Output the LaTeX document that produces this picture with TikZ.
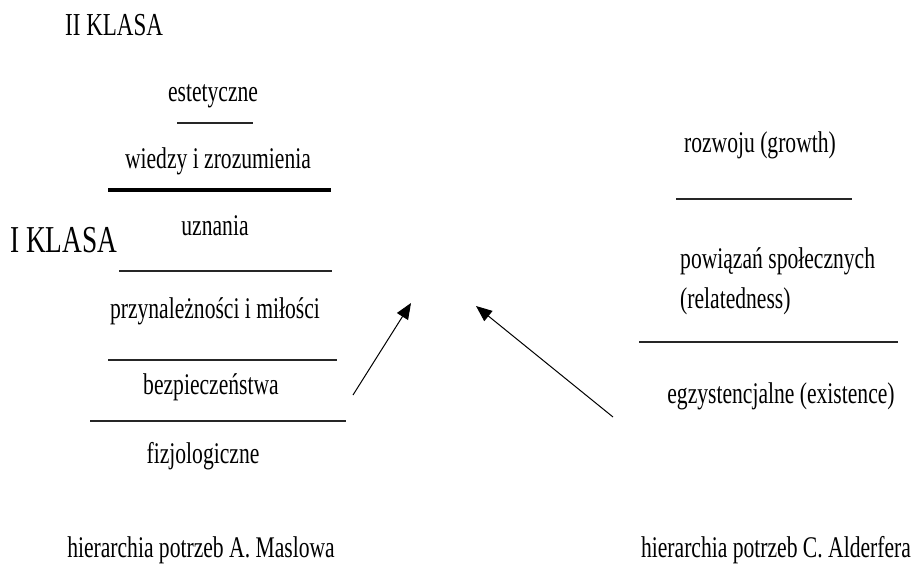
\documentclass[tikz,border=0pt]{standalone}
\usepackage{fontspec}
\setmainfont[FakeStretch=0.72]{Liberation Serif}
\usetikzlibrary{arrows.meta}
\tikzset{
  need/.style = {inner sep=0pt, font=\fontsize{30}{40}\selectfont},
  klasa/.style = {inner sep=0pt, anchor=west},
  sep/.style = {line width=1.3pt, draw=black!85},
}
\begin{document}
\begin{tikzpicture}[x=1pt, y=-1pt]
\useasboundingbox (0,0) rectangle (922,563);

\begin{scope}
\node[klasa, font=\fontsize{32}{38}\selectfont] (k2) at (65,25) {II KLASA};
\node[klasa, font=\fontsize{38}{44}\selectfont] (k1) at (10,240) {I KLASA};

\node[need] (est) at (213,96) {estetyczne};
\draw[sep] (177,123) -- (253,123) ;
\node[need] (wie) at (218,161) {wiedzy i zrozumienia};
\draw[line width=4pt] (108,190) -- (331,190) ;
\node[need] (uzn) at (215,226) {uznania};
\draw[sep] (119,271) -- (332,271) ;
\node[need] (prz) at (215,311) {przynależności i miłości};
\draw[sep] (108,360) -- (337,360) ;
\node[need] (bez) at (211,387) {bezpieczeństwa};
\draw[sep] (90,421) -- (346,421) ;
\node[need] (fiz) at (203,456) {fizjologiczne};

\node[need] (mas) at (201,550) {hierarchia potrzeb A. Maslowa};
\end{scope}

\begin{scope}
\node[need] (roz) at (760,145) {rozwoju (growth)};
\draw[sep] (676,199) -- (852,199) ;
\node[need, align=left, anchor=west] (pow) at (680,281) {powiązań społecznych\\(relatedness)};
\draw[sep] (639,342) -- (898,342) ;
\node[need] (egz) at (781,396) {egzystencjalne (existence)};

\node[need] (ald) at (776,550) {hierarchia potrzeb C. Alderfera};
\end{scope}

\coordinate (a1s) at (353,395);
\coordinate (a1e) at (411,303);
\coordinate (a2s) at (613,417);
\coordinate (a2e) at (476,306);
\draw[line width=1pt, -{Triangle[length=16pt, width=13pt]}] (a1s) -- (a1e) ;
\draw[line width=1pt, -{Triangle[length=16pt, width=13pt]}] (a2s) -- (a2e) ;
\end{tikzpicture}
\end{document}
